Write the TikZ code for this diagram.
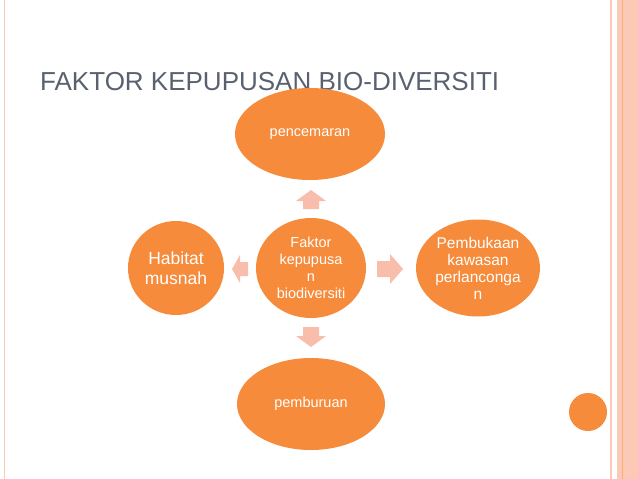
\documentclass[tikz,border=0pt]{standalone}
\usepackage{fontspec}
\setmainfont{Liberation Sans}
\begin{document}
\begin{tikzpicture}[x=1pt,y=-1pt,
  bub/.style={ellipse,fill=orng,text=white,align=center,inner sep=0pt},
  blk/.style={fill=pale,draw=none}]
\definecolor{orng}{HTML}{F68B3B}
\definecolor{pale}{HTML}{F9BEAB}
\definecolor{band}{HTML}{FBC9B5}
\definecolor{ttl}{HTML}{596170}
\usepgflibrary{shapes.geometric}
\useasboundingbox (0,0) rectangle (638,479);
\fill[white] (0,0) rectangle (638,479);
\draw[band,line width=1.5] (4.5,0) -- (4.5,479);
\draw[band,line width=1.5] (611,0) -- (611,479);
\fill[band] (617,0) rectangle (638,479);
\draw[orng!70,line width=0.6] (622,0) -- (622,479);
\node[anchor=base west,text=ttl,font=\fontsize{26}{28}\selectfont,inner sep=0] (title) at (40,90) {FAKTOR KEPUPUSAN BIO-DIVERSITI};
\node[circle,fill=orng,minimum size=38] (dot) at (588,412) {};
% arrows
\fill[blk] (303,209) -- (303,201) -- (296,201) -- (311,190) -- (326,201) -- (319,201) -- (319,209) -- cycle;
\fill[blk] (303,327) -- (303,336) -- (296,336) -- (311,347) -- (326,336) -- (319,336) -- (319,327) -- cycle;
\fill[blk] (248,262) -- (240,262) -- (240,255) -- (232,269) -- (240,283) -- (240,276) -- (248,276) -- cycle;
\fill[blk] (377,261) -- (390,261) -- (390,254) -- (403,269) -- (390,284) -- (390,277) -- (377,277) -- cycle;
\node[bub,minimum width=110,minimum height=100,font=\fontsize{14.5}{17}\selectfont] (c) at (311,268) {Faktor\\kepupusa\\n\\biodiversiti};
\node[bub,minimum width=150,minimum height=92,font=\fontsize{14.5}{17}\selectfont] (t) at (310,134) {pencemaran};
\node[bub,minimum width=148,minimum height=92,font=\fontsize{14.5}{17}\selectfont] (b) at (311,404) {pemburuan};
\node[bub,minimum width=96,minimum height=94,font=\fontsize{17.5}{20}\selectfont] (l) at (176,268) {Habitat\\musnah};
\node[bub,minimum width=124,minimum height=97,font=\fontsize{15.5}{17}\selectfont] (r) at (478,268) {Pembukaan\\kawasan\\perlanconga\\n};
\end{tikzpicture}
\end{document}
